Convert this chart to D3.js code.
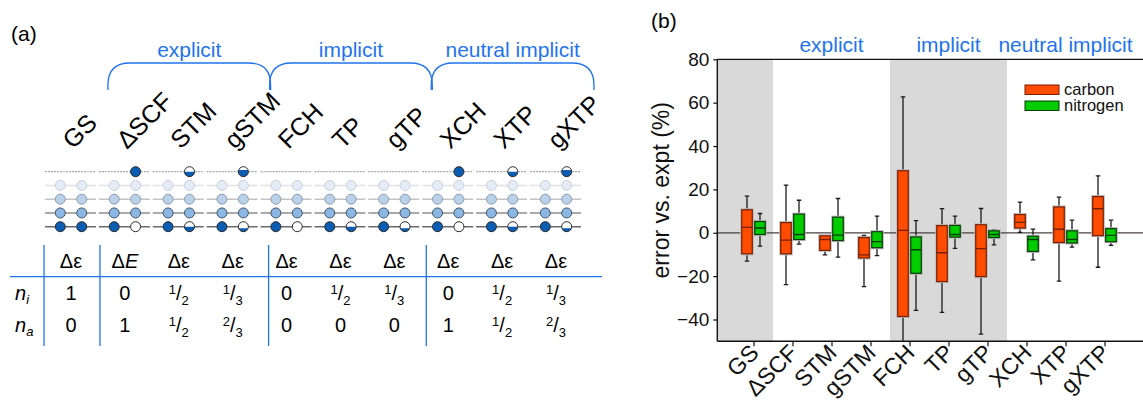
<!DOCTYPE html>
<html>
<head>
<meta charset="utf-8">
<script src="https://cdn.jsdelivr.net/npm/d3@7"></script>
<style>
  body { margin: 0; background: #fff; }
  svg { display: block; font-family: "Liberation Sans", Arial, Helvetica, sans-serif; }
</style>
</head>
<body>
<svg id="chart" width="1143" height="407"></svg>
<script>
// ---- data ----
const methods = ["GS", "ΔSCF", "STM", "gSTM", "FCH", "TP", "gTP", "XCH", "XTP", "gXTP"];
const groupNames = ["explicit", "implicit", "neutral implicit"];
const groupFirst = [1, 4, 7];
const groupLast = [3, 6, 9];
const shadedFirst = [0, 4];
const shadedLast = [0, 6];

// table rows
const energyLabels = ["Δε", "ΔE", "Δε", "Δε", "Δε", "Δε", "Δε", "Δε", "Δε", "Δε"];
const niLabels = ["1", "0", "1/2", "1/3", "0", "1/2", "1/3", "0", "1/2", "1/3"];
const naLabels = ["0", "1", "1/2", "2/3", "0", "0", "0", "1", "1/2", "2/3"];
// occupation drawn in the orbital diagram (right-hand electron)
const coreFill = [1, 0, 0.5, 1/3, 0, 0.5, 1/3, 0, 0.5, 1/3];
const excitedFill = [0, 1, 0.5, 2/3, 0, 0, 0, 1, 0.5, 2/3];

// box plot stats, error vs. expt (%)
const carbonMin    = [-13.1, -23.9, -10.2, -24.8, -52,   -36.7, -46.7,  0.2, -22.3, -15.9];
const carbonQ1     = [ -9.7,  -9.7,  -8.1, -11.6, -38.6, -22.5, -20.2,  2.2,  -4.5,  -1.3];
const carbonMedian = [  2.5,  -3.4,  -3.1, -10.2,   1.1,  -9.2,  -7.3,  4.8,   1.6,  11.1];
const carbonQ3     = [ 10.6,   4.7,  -1.4,  -2.2,  28.6,   3.3,   3.7,  8.4,  11.9,  16.7];
const carbonMax    = [ 16.9,  22.0,  -1.3,  -1.2,  62.7,  11.1,  11.2, 14.1,  16.4,  26.2];

const nitrogenMin    = [-6.2, -5.2, -11.2, -10.5, -35.8, -7.2, -5.6, -12.5, -6.6, -5.8];
const nitrogenQ1     = [-0.8, -3.1,  -3.6,  -6.9, -18.7, -2.0, -2.2,  -8.6, -4.7, -4.1];
const nitrogenMedian = [ 2.2, -0.8,  -1.1,  -4.1,  -7.8, -0.8, -0.8,  -3.1, -3.1, -1.2];
const nitrogenQ3     = [ 5.2,  8.6,   7.2,   0.5,  -1.9,  3.4,  0.9,  -1.6,  0.9,  1.9];
const nitrogenMax    = [ 8.9, 15.0,  15.8,   7.7,   5.6,  7.7,  1.4,   1.7,  5.8,  5.8];

const yTicks = [-40, -20, 0, 20, 40, 60, 80];
const seriesNames = ["carbon", "nitrogen"];
const seriesColors = ["#ff4c00", "#00cc00"];
const seriesStrokes = ["#7a1d00", "#0b3b0b"];

const blue = "#1f74ee";
const svg = d3.select("#chart");

// ================= panel (a) =================
svg.append("text").attr("x", 11).attr("y", 41).attr("font-size", 21).text("(a)");

const colX = d3.scalePoint().domain(methods).range([71, 556]);
const step = colX.step();
const colAt = i => colX.range()[0] + i * step;

// group braces + labels
groupNames.forEach((name, g) => {
  const x0 = colAt(groupFirst[g] - 0.5) + 10;
  const x1 = colAt(groupLast[g] + 0.5) + 11;
  const top = 63, bot = 90, r = 22;
  svg.append("path")
    .attr("d", `M${x0},${bot}V${top + r}Q${x0},${top} ${x0 + r},${top}H${x1 - r}Q${x1},${top} ${x1},${top + r}V${bot}`)
    .attr("fill", "none").attr("stroke", blue).attr("stroke-width", 1.3);
  svg.append("text")
    .attr("x", (x0 + x1) / 2).attr("y", 57)
    .attr("text-anchor", "middle").attr("font-size", 21).attr("fill", blue)
    .text(name);
});

// rotated method labels
svg.append("g").selectAll("text")
  .data(methods)
  .join("text")
    .attr("transform", d => `translate(${colX(d) + 2},150) rotate(-45)`)
    .attr("font-size", 25)
    .text(d => d);

// orbital diagram
const levelY = d3.scalePoint().domain([0, 1, 2, 3, 4]).range([171.7, 226.7]);
// level 0 = excited orbital, 1..4 = occupied valence/core levels
const levelLine = ["#a8a8a8", "#e2e2e2", "#c4c4c4", "#8e8e8e", "#6a6a6a"];
const levelFill = ["#0b5cb3", "#e3ecf7", "#bad1eb", "#8ab7e3", "#0b5cb3"];
const levelStroke = ["#2a2a2a", "#c9d0d9", "#8f9cab", "#445566", "#2a2a2a"];
const dotR = 5;
const dLeft = -10.7, dRight = 10.7;

function segmentPath(cx, cy, r, f) {
  const yc = cy + r - 2 * r * f;
  const dy = yc - cy;
  const w = Math.sqrt(Math.max(0, r * r - dy * dy));
  return `M${cx - w},${yc}A${r},${r} 0 ${f > 0.5 ? 1 : 0} 0 ${cx + w},${yc}Z`;
}

const orb = svg.append("g");
// lines, one segment per method
[0, 1, 2, 3, 4].forEach(lv => {
  orb.append("g").selectAll("line")
    .data(methods)
    .join("line")
      .attr("x1", d => colX(d) - 26).attr("x2", d => colX(d) + 25)
      .attr("y1", levelY(lv)).attr("y2", levelY(lv))
      .attr("stroke", levelLine[lv])
      .attr("stroke-width", lv === 0 ? 1.2 : 1.6)
      .attr("stroke-dasharray", lv === 0 ? "2,1" : null);
});

function drawDot(cx, cy, lv, f) {
  orb.append("circle").attr("cx", cx).attr("cy", cy).attr("r", dotR).attr("fill", "#fff");
  if (f >= 1) {
    orb.append("circle").attr("cx", cx).attr("cy", cy).attr("r", dotR).attr("fill", levelFill[lv]);
  } else if (f > 0) {
    orb.append("path").attr("d", segmentPath(cx, cy, dotR, f)).attr("fill", levelFill[lv]);
  }
  orb.append("circle").attr("cx", cx).attr("cy", cy).attr("r", dotR)
    .attr("fill", "none").attr("stroke", levelStroke[lv]).attr("stroke-width", 1);
}

methods.forEach((m, i) => {
  const cx = colX(m);
  [1, 2, 3].forEach(lv => {
    drawDot(cx + dLeft, levelY(lv), lv, 1);
    drawDot(cx + dRight, levelY(lv), lv, 1);
  });
  drawDot(cx + dLeft, levelY(4), 4, 1);
  drawDot(cx + dRight, levelY(4), 4, coreFill[i]);
  if (excitedFill[i] > 0) drawDot(cx + dRight, levelY(0), 0, excitedFill[i]);
});

// table
const tbl = svg.append("g");
const rowY = [268, 300, 331.5];
tbl.append("line").attr("x1", 10).attr("x2", 602).attr("y1", 276.7).attr("y2", 276.7)
  .attr("stroke", blue).attr("stroke-width", 1.3);
[colAt(-0.5), colAt(0.5) + 2, colAt(3.5) + 9, colAt(6.5) + 5].forEach(x => {
  tbl.append("line").attr("x1", x).attr("x2", x).attr("y1", 245).attr("y2", 346)
    .attr("stroke", blue).attr("stroke-width", 1.3);
});

function cellText(x, y, label) {
  const t = tbl.append("text").attr("x", x).attr("y", y).attr("text-anchor", "middle").attr("font-size", 20);
  if (label.includes("/")) {
    const [a, b] = label.split("/");
    t.append("tspan").attr("font-size", 13).attr("dy", -6).text(a);
    t.append("tspan").attr("dy", 6).text("/");
    t.append("tspan").attr("font-size", 13).attr("dy", 5).text(b);
  } else if (label === "ΔE") {
    t.append("tspan").text("Δ");
    t.append("tspan").attr("font-style", "italic").text("E");
  } else {
    t.text(label);
  }
}
methods.forEach((m, i) => {
  cellText(colX(m), rowY[0], energyLabels[i]);
  cellText(colX(m), rowY[1], niLabels[i]);
  cellText(colX(m), rowY[2], naLabels[i]);
});
["i", "a"].forEach((s, k) => {
  const t = tbl.append("text").attr("x", 15).attr("y", rowY[k + 1]).attr("font-size", 20).attr("font-style", "italic");
  t.append("tspan").text("n");
  t.append("tspan").attr("font-size", 13).attr("dy", 4).text(s);
});

// ================= panel (b) =================
svg.append("text").attr("x", 651).attr("y", 28).attr("font-size", 21).text("(b)");

const plotL = 717.3, plotR = 1143, plotT = 59.3, plotB = 341.2;
const y = d3.scaleLinear().domain([-50, 80]).range([plotB, plotT]);
const x = d3.scalePoint().domain(methods).range([753.5, 1104.5]);
const xs = x.step();

svg.append("defs").append("clipPath").attr("id", "plotclip")
  .append("rect").attr("x", plotL).attr("y", plotT).attr("width", plotR - plotL).attr("height", plotB - plotT);

// shaded bands
shadedFirst.forEach((f, k) => {
  const x0 = f === 0 ? plotL : x(methods[f]) - xs / 2;
  const x1 = x(methods[shadedLast[k]]) + xs / 2;
  svg.append("rect").attr("x", x0).attr("y", plotT).attr("width", x1 - x0).attr("height", plotB - plotT)
    .attr("fill", "#d9d9d9");
});

// group labels above plot
groupNames.forEach((name, g) => {
  const mid = (x(methods[groupFirst[g]]) + x(methods[groupLast[g]])) / 2;
  const t = svg.append("text").attr("y", 52).attr("text-anchor", "middle")
    .attr("font-size", 21).attr("fill", blue).text(name);
  const w = t.node().getComputedTextLength();
  t.attr("x", Math.min(mid, plotR - 1 - w / 2));
});

// zero line
svg.append("line").attr("x1", plotL).attr("x2", plotR).attr("y1", y(0)).attr("y2", y(0))
  .attr("stroke", "#4a4040").attr("stroke-width", 1.3);

// boxes
const series = [
  { off: -6.5, min: carbonMin, q1: carbonQ1, med: carbonMedian, q3: carbonQ3, max: carbonMax },
  { off: 6.5, min: nitrogenMin, q1: nitrogenQ1, med: nitrogenMedian, q3: nitrogenQ3, max: nitrogenMax }
];
const boxW = 10.5, capW = 4.5;
const boxes = svg.append("g").attr("clip-path", "url(#plotclip)");
series.forEach((s, k) => {
  methods.forEach((m, i) => {
    const cx = x(m) + s.off;
    const g = boxes.append("g");
    g.append("line").attr("x1", cx).attr("x2", cx).attr("y1", y(s.min[i])).attr("y2", y(s.max[i]))
      .attr("stroke", "#1a1a1a").attr("stroke-width", 1.3);
    [s.min[i], s.max[i]].forEach(v => {
      g.append("line").attr("x1", cx - capW / 2).attr("x2", cx + capW / 2).attr("y1", y(v)).attr("y2", y(v))
        .attr("stroke", "#1a1a1a").attr("stroke-width", 1.3);
    });
    // soft halo
    g.append("rect").attr("x", cx - boxW / 2).attr("y", y(s.q3[i])).attr("width", boxW)
      .attr("height", y(s.q1[i]) - y(s.q3[i]))
      .attr("fill", "none").attr("stroke", "#b8b8b8").attr("stroke-width", 3);
    g.append("rect").attr("x", cx - boxW / 2).attr("y", y(s.q3[i])).attr("width", boxW)
      .attr("height", y(s.q1[i]) - y(s.q3[i]))
      .attr("fill", seriesColors[k]).attr("stroke", seriesStrokes[k]).attr("stroke-width", 1.2);
    g.append("line").attr("x1", cx - boxW / 2).attr("x2", cx + boxW / 2)
      .attr("y1", y(s.med[i])).attr("y2", y(s.med[i]))
      .attr("stroke", seriesStrokes[k]).attr("stroke-width", 1.4);
  });
});

// axes
const yAxis = d3.axisLeft(y).tickValues(yTicks).tickSize(4).tickSizeOuter(0);
const ya = svg.append("g").attr("transform", `translate(${plotL},0)`).call(yAxis);
ya.select(".domain").remove();
ya.selectAll(".tick line").attr("stroke", "#111").attr("stroke-width", 1.2);
ya.selectAll(".tick text").attr("font-size", 19).attr("font-family", null).attr("fill", "#111").attr("x", -8);

const xAxis = d3.axisBottom(x).tickSize(5).tickSizeOuter(0);
const xa = svg.append("g").attr("transform", `translate(0,${plotB})`).call(xAxis);
xa.select(".domain").remove();
xa.selectAll(".tick line").attr("stroke", "#111").attr("stroke-width", 1.2);
xa.selectAll(".tick text")
  .attr("font-size", 23).attr("font-family", null).attr("fill", "#111")
  .attr("text-anchor", "end").attr("dy", null).attr("y", 0)
  .attr("transform", "translate(6,13) rotate(-45)");

// frame lines
svg.append("line").attr("x1", plotL).attr("x2", plotL).attr("y1", plotT).attr("y2", plotB)
  .attr("stroke", "#111").attr("stroke-width", 1.4);
svg.append("line").attr("x1", plotL).attr("x2", plotR).attr("y1", plotB).attr("y2", plotB)
  .attr("stroke", "#111").attr("stroke-width", 1.4);
svg.append("line").attr("x1", plotL).attr("x2", plotR).attr("y1", plotT).attr("y2", plotT)
  .attr("stroke", "#111").attr("stroke-width", 1.2);

// y title
svg.append("text")
  .attr("transform", `translate(669,${(plotT + plotB) / 2 - 10}) rotate(-90)`)
  .attr("text-anchor", "middle").attr("font-size", 23).attr("fill", "#111")
  .text("error vs. expt (%)");

// legend
seriesNames.forEach((n, k) => {
  const ly = 85 + k * 16;
  svg.append("rect").attr("x", 1025).attr("y", ly).attr("width", 34).attr("height", 9.5)
    .attr("fill", seriesColors[k]).attr("stroke", seriesStrokes[k]).attr("stroke-width", 1);
  svg.append("text").attr("x", 1064).attr("y", ly + 9.5).attr("font-size", 16.5).attr("fill", "#111").text(n);
});
</script>
</body>
</html>
